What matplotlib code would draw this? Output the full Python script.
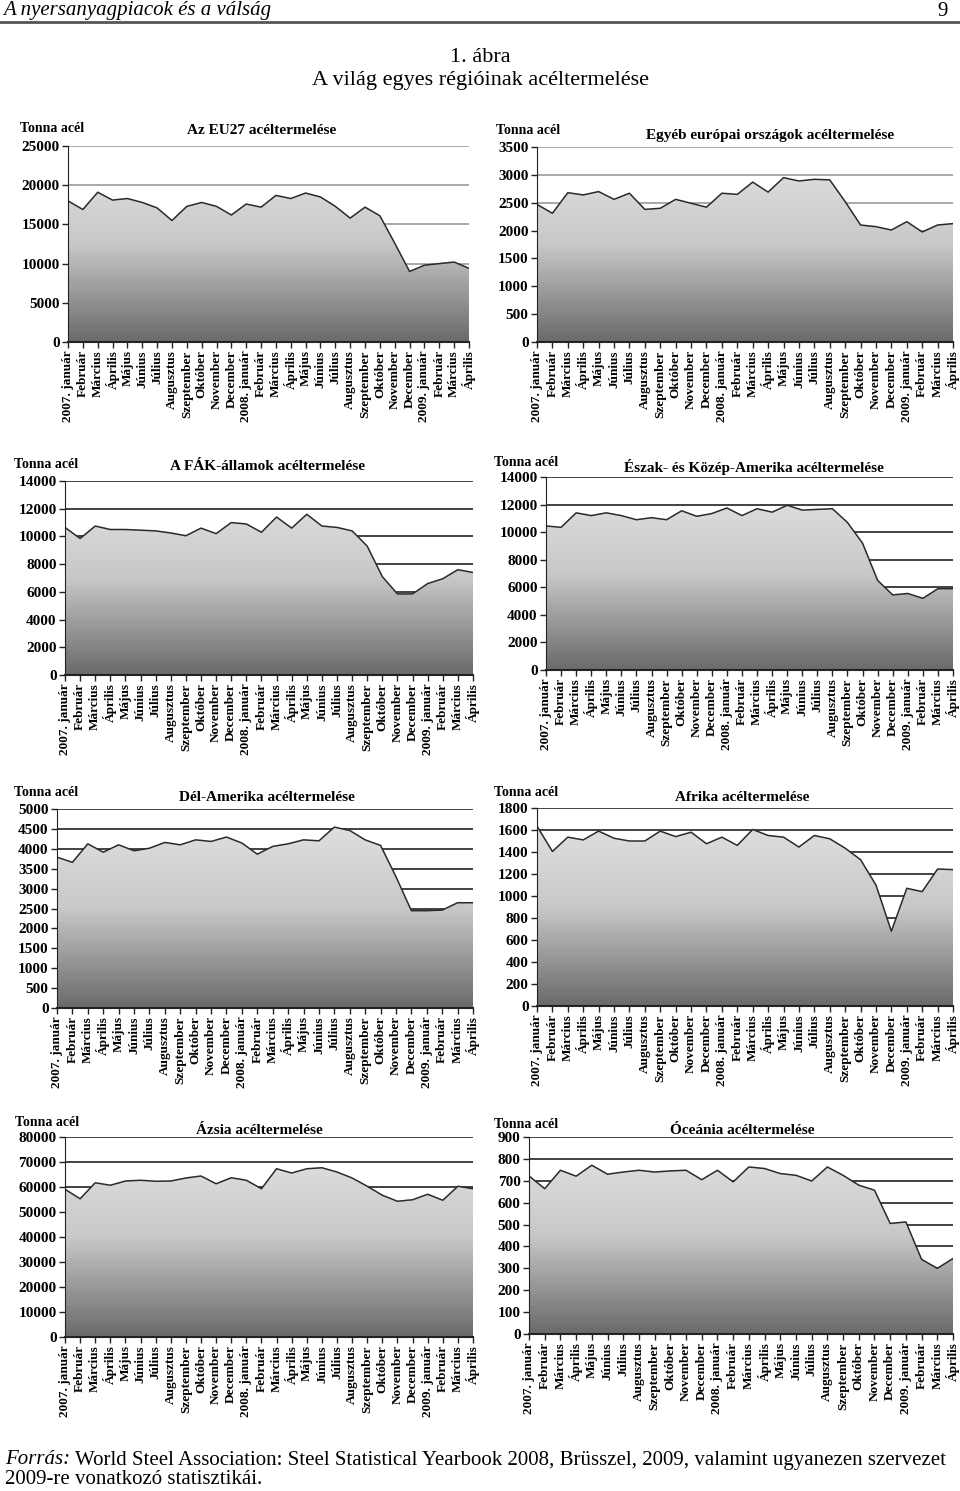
import numpy as np
import matplotlib.pyplot as plt
from matplotlib.colors import LinearSegmentedColormap

plt.rcParams['font.family'] = ['Liberation Serif', 'DejaVu Serif']

W, H = 960, 1491

months = ['2007. január', 'Február', 'Március', 'Április', 'Május', 'Június',
          'Július', 'Augusztus', 'Szeptember', 'Október', 'November', 'December',
          '2008. január', 'Február', 'Március', 'Április', 'Május', 'Június',
          'Július', 'Augusztus', 'Szeptember', 'Október', 'November', 'December',
          '2009. január', 'Február', 'Március', 'Április']

# tonna acél, havi adatok
eu27 = [18000, 16900, 19100, 18100, 18300, 17800, 17100, 15500, 17300, 17800,
        17300, 16200, 17600, 17200, 18700, 18300, 19000, 18500, 17300, 15800,
        17200, 16100, 12600, 9000, 9800, 10000, 10200, 9400]
egyeb_eu = [2470, 2310, 2680, 2640, 2700, 2560, 2670, 2380, 2400, 2560,
            2490, 2420, 2670, 2650, 2870, 2690, 2950, 2890, 2920, 2910,
            2520, 2100, 2070, 2010, 2160, 1975, 2100, 2125]
fak = [10650, 9850, 10750, 10500, 10500, 10450, 10400, 10250, 10050, 10600,
       10200, 11000, 10900, 10300, 11400, 10600, 11600, 10750, 10650, 10400,
       9300, 7100, 5850, 5850, 6600, 6950, 7600, 7400]
eszak_amerika = [10450, 10350, 11400, 11200, 11400, 11200, 10900, 11050, 10900, 11550,
                 11150, 11350, 11750, 11200, 11700, 11450, 11950, 11600, 11650, 11700,
                 10700, 9200, 6500, 5450, 5550, 5200, 5900, 5900]
del_amerika = [3790, 3660, 4125, 3915, 4100, 3950, 4015, 4160, 4100, 4225,
               4185, 4295, 4145, 3865, 4060, 4125, 4225, 4200, 4545, 4460,
               4225, 4085, 3300, 2445, 2445, 2460, 2645, 2645]
afrika = [1635, 1405, 1535, 1510, 1590, 1525, 1500, 1500, 1590, 1540,
          1580, 1475, 1535, 1460, 1605, 1550, 1535, 1445, 1550, 1520,
          1435, 1330, 1100, 680, 1070, 1040, 1245, 1240]
azsia = [59100, 55300, 61700, 60700, 62400, 62700, 62300, 62400, 63600, 64400,
         61300, 63700, 62700, 59300, 67300, 65600, 67300, 67700, 66000, 63600,
         60300, 56700, 54300, 54900, 57100, 54700, 60300, 59300]
oceania = [722, 664, 748, 721, 771, 730, 740, 748, 740, 745,
           748, 705, 748, 695, 763, 756, 733, 725, 699, 763,
           725, 680, 657, 505, 512, 341, 300, 345]

titles = ['Az EU27 acéltermelése', 'Egyéb európai országok acéltermelése',
          'A FÁK-államok acéltermelése', 'Észak- és Közép-Amerika acéltermelése',
          'Dél-Amerika acéltermelése', 'Afrika acéltermelése',
          'Ázsia acéltermelése', 'Óceánia acéltermelése']
series = [eu27, egyeb_eu, fak, eszak_amerika, del_amerika, afrika, azsia, oceania]
ymaxes = [25000, 3500, 14000, 14000, 5000, 1800, 80000, 900]
ysteps = [5000, 500, 2000, 2000, 500, 200, 10000, 100]

# plot area boxes in pixels (x0, y0, x1, y1), unit label pos, title centre
boxes = [(68, 146, 469, 342), (537, 147, 953, 342),
         (65, 481, 473, 675), (546, 477, 953, 670),
         (57, 809, 473, 1008), (537, 808, 953, 1006),
         (65, 1137, 473, 1337), (529, 1137, 953, 1334)]
unit_pos = [(20, 129), (496, 130), (14, 464), (494, 463),
            (14, 793), (494, 793), (15, 1123), (494, 1124)]
title_x = [262, 770, 268, 754, 267, 742, 259, 742]
title_y = [131, 135, 467, 467, 798, 798, 1130, 1130]
grid_cols = ['#9a9a9a', '#9a9a9a', '#222222', '#222222',
             '#222222', '#222222', '#222222', '#222222']

grad = LinearSegmentedColormap.from_list('g', ['#e4e4e4', '#c8c8c8', '#6a6a6a'])

fig = plt.figure(figsize=(W / 100, H / 100), dpi=100)


def fx(x):
    return x / W


def fy(y):
    return 1 - y / H


# fejléc
fig.text(fx(3), fy(11), 'A nyersanyagpiacok és a válság', style='italic',
         fontsize=15, va='center', ha='left')
fig.text(fx(948), fy(11), '9', fontsize=15, va='center', ha='right')
fig.add_artist(plt.Line2D([0, 1], [fy(22), fy(22)], color='#555555', lw=2))
fig.text(0.5, fy(58), '1. ábra', fontsize=16, ha='center', va='center')
fig.text(0.5, fy(80), 'A világ egyes régióinak acéltermelése', fontsize=16,
         ha='center', va='center')

x = np.arange(len(months))

for i in range(8):
    x0, y0, x1, y1 = boxes[i]
    ax = fig.add_axes([fx(x0), fy(y1), (x1 - x0) / W, (y1 - y0) / H])
    vals = np.array(series[i])
    ymax = ymaxes[i]

    ax.set_xlim(0, len(months) - 1)
    ax.set_ylim(0, ymax)
    yt = np.arange(0, ymax + 1, ysteps[i])
    ax.set_yticks(yt)
    ax.set_yticklabels([str(v) for v in yt], fontsize=11, fontweight='bold')
    ax.set_xticks(x)
    ax.set_xticklabels(months, rotation=90, fontsize=9.5, fontweight='bold')
    for v in yt[1:]:
        ax.axhline(v, color=grid_cols[i], lw=1.2, zorder=0)

    poly = ax.fill_between(x, vals, 0, facecolor='none', edgecolor='none')
    im = ax.imshow(np.linspace(0, 1, 256).reshape(-1, 1), cmap=grad,
                   extent=[0, len(months) - 1, 0, ymax], aspect='auto', zorder=1)
    im.set_clip_path(poly.get_paths()[0], transform=ax.transData)
    ax.plot(x, vals, color='#2a2a2a', lw=1.1, zorder=2)

    for s in ['top', 'right']:
        ax.spines[s].set_visible(False)
    ax.spines['left'].set_color('#222222')
    ax.spines['bottom'].set_color('#222222')
    ax.spines['bottom'].set_linewidth(1.5)
    ax.tick_params(axis='both', length=4, width=1, pad=2, color='#222222')

    ux, uy = unit_pos[i]
    fig.text(fx(ux), fy(uy), 'Tonna acél', fontsize=10, fontweight='bold',
             ha='left', va='center')
    fig.text(fx(title_x[i]), fy(title_y[i]), titles[i], fontsize=11,
             fontweight='bold', ha='center', va='center')

# forrás
t1 = fig.text(fx(5), fy(1460), 'Forrás:', style='italic', fontsize=15,
              ha='left', va='center')
fig.canvas.draw()
bb = t1.get_window_extent()
fig.text(fx(bb.x1 + 5), fy(1460),
         'World Steel Association: Steel Statistical Yearbook 2008, Brüsszel, 2009, '
         'valamint ugyanezen szervezet', fontsize=15, ha='left', va='center')
fig.text(fx(5), fy(1480), '2009-re vonatkozó statisztikái.', fontsize=15,
         ha='left', va='center')

fig.savefig('out.png', dpi=100)
